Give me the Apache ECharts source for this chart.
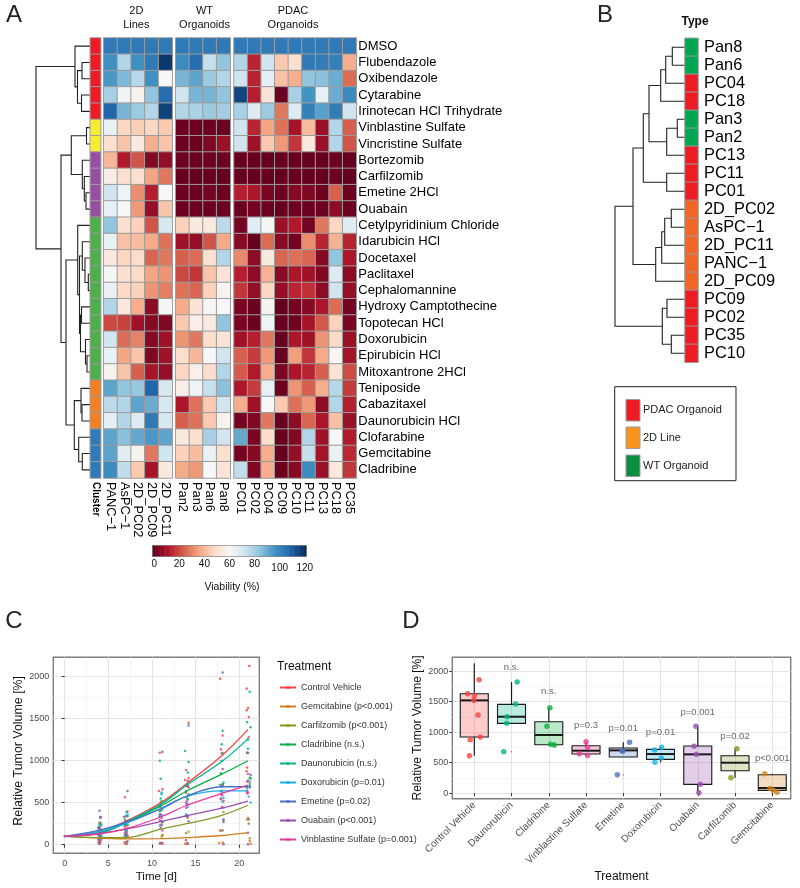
<!DOCTYPE html>
<html><head><meta charset="utf-8">
<style>html,body{margin:0;padding:0;background:#fff}#c{width:800px;height:888px}</style>
<script src="https://cdn.jsdelivr.net/npm/echarts@6/dist/echarts.min.js"></script>
</head><body><div id="c"></div>
<script>
// ---------- Panel A data ----------
const drugs=["DMSO","Flubendazole","Oxibendazole","Cytarabine","Irinotecan HCl Trihydrate","Vinblastine Sulfate","Vincristine Sulfate","Bortezomib","Carfilzomib","Emetine 2HCl","Ouabain","Cetylpyridinium Chloride","Idarubicin HCl","Docetaxel","Paclitaxel","Cephalomannine","Hydroxy Camptothecine","Topotecan HCl","Doxorubicin","Epirubicin HCl","Mitoxantrone 2HCl","Teniposide","Cabazitaxel","Daunorubicin HCl","Clofarabine","Gemcitabine","Cladribine"];
const lines2D=["PANC\u22121","AsPC\u22121","2D_PC02","2D_PC09","2D_PC11"];
const wtOrganoids=["Pan2","Pan3","Pan6","Pan8"];
const pdacOrganoids=["PC01","PC02","PC04","PC09","PC10","PC11","PC13","PC18","PC35"];
const clusterOfDrug=[0,0,0,0,0,1,1,2,2,2,2,3,3,3,3,3,3,3,3,3,3,4,4,4,5,5,5];
const clusterColors=["#ed1c24","#f7ec2f","#984ea3","#4daf4a","#f57f20","#2f7ab9"];
const values2D=[[103,103,103,103,103],[97,78,97,103,118],[95,87,77,97,60],[80,63,58,84,106],[108,88,82,78,116],[64,47,45,47,44],[50,43,54,38,43],[40,12,22,4,7],[56,50,50,36,28],[72,63,32,13,60],[65,60,34,7,43],[84,50,46,22,70],[64,42,41,37,27],[54,47,49,25,28],[61,50,48,36,33],[64,48,46,33,29],[78,54,38,6,61],[20,19,9,5,4],[72,26,30,5,9],[64,36,43,4,9],[58,43,24,10,7],[92,84,83,108,70],[76,78,92,90,70],[66,78,68,103,70],[92,85,91,95,92],[92,67,58,28,72],[98,75,44,10,54]];
const valuesWT=[[103,103,103,103],[98,106,74,84],[88,92,82,78],[72,88,88,84],[78,79,82,81],[1,1,1,1],[1,1,4,8],[1,1,1,1],[0,0,0,0],[1,1,2,1],[1,1,1,1],[46,54,54,76],[9,7,22,37],[24,26,50,78],[20,17,43,52],[27,25,46,58],[37,51,59,60],[44,56,54,84],[33,28,49,52],[49,40,60,72],[47,57,49,78],[56,63,74,85],[11,27,44,72],[24,27,44,58],[54,50,80,72],[46,41,64,50],[37,34,60,52]];
const valuesPDAC=[[103,103,103,103,103,103,103,103,103],[78,14,72,44,50,103,102,101,38],[72,14,66,42,38,84,85,90,26],[115,13,52,1,80,96,65,90,99],[80,68,82,28,68,101,93,102,72],[72,14,36,27,10,41,8,78,24],[72,9,44,34,17,54,8,78,22],[0,0,0,0,0,0,0,1,0],[0,0,0,0,0,0,0,1,0],[13,11,3,1,5,4,1,24,1],[1,2,1,0,1,1,1,6,1],[2,67,61,8,12,2,28,47,68],[5,0,26,5,2,32,14,39,14],[31,6,54,25,27,25,5,84,11],[13,6,39,5,11,9,4,68,6],[17,7,47,7,14,16,6,72,7],[3,1,58,0,2,5,11,26,2],[3,1,63,0,1,10,23,46,3],[9,13,28,0,11,9,33,48,8],[24,18,34,0,35,17,37,59,10],[23,12,38,3,11,14,24,51,21],[11,18,65,1,33,24,38,77,18],[38,9,60,44,27,34,6,78,13],[2,4,28,0,6,25,11,42,8],[91,3,49,0,4,78,9,60,12],[2,5,38,0,7,74,10,64,15],[75,4,38,1,5,98,8,53,17]];
const treeA=[54,[15,0,[12.5,[8,1,2],[8.5,3,4]]],[29,[18.7,[3.5,5,6],[7.7,7,[5.7,8,[4,9,10]]]],[24,[12.3,11,[10.5,[7.7,12,[5,13,[1.7,14,15]]],[9.5,[8.5,16,17],[4.5,18,[3,19,20]]]]],[15.7,[9,21,[8,22,23]],[11.3,24,[7.7,25,26]]]]]];
const colorbarTicks=[0,20,40,60,80,100,120];
// ---------- Panel B data ----------
const modelNames=["Pan8","Pan6","PC04","PC18","Pan3","Pan2","PC13","PC11","PC01","2D_PC02","AsPC\u22121","2D_PC11","PANC\u22121","2D_PC09","PC09","PC02","PC35","PC10"];
const modelType=[2,2,0,0,2,2,0,0,0,1,1,1,1,1,0,0,0,0];
const typeNames=["PDAC Organoid","2D Line","WT Organoid"];
const typeBarColors=["#ed1c24","#f26522","#00a651"];
const typeKeyColors=["#ed1c24","#f7941d","#0b8f3f"];
const treeB=[70,[52,[41.7,[36,[24.3,[19.3,[12.7,0,1],2],3],[18.3,[7.7,4,5],6]],[18.3,7,8]],[29.3,[23.3,[20.3,[13.7,9,10],11],12],13]],[22.7,[18,14,15],[13.7,16,17]]];
// ---------- Panel C data ----------
const days=[0,4,7,11,14,18,21];
const treatments=["Control Vehicle","Gemcitabine (p<0.001)","Carfilzomib (p<0.001)","Cladribine (n.s.)","Daunorubicin (n.s.)","Doxorubicin (p=0.01)","Emetine (p=0.02)","Ouabain (p<0.001)","Vinblastine Sulfate (p=0.001)"];
const treatmentColors=["#f8433f","#d07f1d","#7f9b22","#0cad3f","#00b48a","#18b0e8","#4a72c4","#9a4fb0","#ec3a9a"];
const trendControl=[100,155,280,500,730,1060,1370];
const trendGem=[100,80,70,72,85,110,145];
const trendCarf=[100,85,85,185,250,350,470];
const trendClad=[100,135,260,460,640,840,1000];
const trendDaun=[100,140,270,480,710,990,1260];
const trendDox=[100,160,255,430,575,640,640];
const trendEme=[100,175,265,425,580,690,690];
const trendOua=[100,135,185,275,345,435,520];
const trendVin=[100,130,190,330,470,610,710];
const ptsControl=[[0,100],[4.1,330],[4,260],[3.9,190],[4.2,150],[3.8,120],[4.1,100],[4,40],[3.9,25],[6.9,565],[7.2,395],[6.8,330],[7.1,280],[6.9,220],[7,170],[7.2,110],[6.9,30],[10.9,1095],[11.2,660],[10.8,640],[11,500],[11.1,410],[10.9,330],[11.2,270],[11,20],[13.9,890],[13.8,770],[14.2,795],[14,700],[13.9,620],[14.1,480],[14.2,1450],[17.8,1975],[18.1,1300],[17.9,1135],[18,1090],[18.1,720],[17.9,640],[18.2,520],[21.15,2126],[20.85,1858],[21,1628],[20.85,1600],[21.1,1519],[21.1,1279],[20.9,918],[20.85,874],[20.9,612]];
const ptsDaun=[[4.1,260],[3.9,210],[4.2,160],[4,100],[3.9,60],[7.1,390],[6.9,300],[7.2,240],[7,170],[6.9,110],[10.9,1000],[11.1,620],[11,550],[11.2,430],[10.9,340],[13.8,1115],[14.1,860],[14.2,600],[13.9,500],[14,350],[18.1,1355],[18,1195],[18.1,1090],[17.8,710],[18.2,560],[21.2,1820],[20.9,1459],[21,1251],[21,1142],[20.9,678]];
const ptsClad=[[4,240],[4.1,180],[3.9,130],[4.2,90],[7.2,340],[7,240],[6.9,180],[7.1,120],[11,785],[11.1,520],[10.9,400],[11.2,270],[14.2,985],[14,700],[13.9,640],[14.1,540],[18,1000],[17.9,850],[18.1,720],[18,640],[21.3,1399],[21,1093],[21.2,798],[21.3,787]];
const ptsDox=[[4.2,230],[4,160],[3.9,110],[4.1,70],[7.2,360],[7,260],[7.1,170],[6.9,100],[11.1,600],[11,480],[11.2,350],[10.9,230],[14,720],[14.2,590],[14.1,450],[13.9,360],[18.2,740],[18,620],[18.1,510],[18.2,440],[21.2,749],[21.2,705],[21.1,574],[21.3,503]];
const ptsEme=[[4,405],[4.1,320],[3.9,200],[4.2,120],[7.2,640],[7,340],[6.9,230],[7.1,150],[11.2,1105],[11,440],[10.9,360],[11.1,280],[14.2,1420],[14.1,760],[14,560],[13.9,340],[18.1,2050],[18,690],[18.2,300],[18.2,270],[21.3,831],[21.2,694],[21.2,683],[21.1,300]];
const ptsOua=[[4.1,330],[4,210],[3.9,60],[4.1,30],[4,10],[7.1,280],[6.9,190],[7,120],[7.2,40],[7.1,10],[11,480],[11.1,320],[11,200],[11.2,20],[10.9,15],[14.1,700],[14,480],[14.2,280],[13.9,55],[14.1,10],[18.1,900],[18,600],[17.9,550],[18.1,170],[18.2,5],[20.9,1093],[21,765],[20.9,634],[21,142],[21,5]];
const ptsCarf=[[4.2,180],[4,120],[7.2,230],[7,130],[11.1,230],[11.2,110],[13.9,140],[14.1,320],[17.8,170],[18.2,390],[21.2,727],[21.1,251]];
const ptsGem=[[4.2,240],[4.1,130],[4,50],[3.9,20],[7.2,200],[7,90],[7.1,30],[6.9,15],[11.2,115],[11.1,95],[11,20],[11.2,10],[14.2,155],[14,20],[14.1,15],[13.8,10],[18.2,295],[17.9,170],[18.1,25],[17.7,20],[21,317],[20.9,300],[21.2,76],[21.2,44],[21.3,11]];
const ptsVin=[[4.1,170],[3.9,130],[4,90],[4.2,60],[7,280],[7.1,190],[6.9,140],[7.2,90],[11,360],[10.9,290],[11.1,240],[11.2,170],[14.2,680],[14,520],[13.9,440],[14.1,340],[18.1,700],[18,590],[17.9,540],[18,450],[21,842],[20.9,749],[20.9,645],[21,617]];
const yTicksTumor=[0,500,1000,1500,2000];
const yMinorTumor=[250,750,1250,1750];
const xTicksDays=[0,5,10,15,20];
const xMinorDays=[2.5,7.5,12.5,17.5];
// ---------- Panel D data ----------
const boxNames=["Control Vehicle","Daunorubicin","Cladribine","Vinblastine Sulfate","Emetine","Doxorubicin","Ouabain","Carfilzomib","Gemcitabine"];
const boxColors=["#f8433f","#00b48a","#0cad3f","#ec3a9a","#4a72c4","#18b0e8","#9a4fb0","#7f9b22","#d07f1d"];
const boxLow=[612,1142,792,617,590,503,5,251,11];
const boxQ1=[918,1142,792,639,590,552,142,366,44];
const boxMedian=[1519,1251,951,694,699,639,634,497,82];
const boxQ3=[1628,1454,1169,776,738,716,770,612,300];
const boxHigh=[2126,1820,1399,842,831,749,1093,727,317];
const pLabels=["","n.s.","n.s.","p=0.3","p=0.01","p=0.01","p=0.001","p=0.02","p<0.001"];
const pLabelHeights=[0,2054,1667,1104,1055,995,1317,923,568];
const dotGroups=[
 [[1.13,1858],[.82,1628],[1,1596],[.99,1519],[1.1,1279],[1.16,918],[.89,874],[.87,612]],
 [[2.15,1820],[2.11,1459],[1.88,1251],[1.87,1142],[1.79,678]],
 [[3.03,1399],[2.95,1093],[3.05,798],[3.15,787]],
 [[4,842],[4.04,749],[3.82,645],[4.04,617]],
 [[5.17,831],[4.96,694],[4.99,683],[4.84,300]],
 [[6.03,749],[5.84,705],[6.02,574],[5.85,503]],
 [[6.95,1093],[6.9,765],[6.96,634],[7.07,142],[7.03,5]],
 [[8.05,727],[7.89,251]],
 [[8.8,317],[8.94,76],[9.03,44],[9.13,11]]];
const outliers=[[2,678],[5,300]];

// ---------- helpers ----------
const FONT='"Liberation Sans",Arial,sans-serif';
const grid=[],xAxis=[],yAxis=[],series=[],graphic=[];
function addGrid(g,x,y){const i=grid.length;grid.push(Object.assign({containLabel:false},g));x.gridIndex=i;y.gridIndex=i;xAxis.push(x);yAxis.push(y);return {g:i,x:xAxis.length-1,y:yAxis.length-1};}
function txt(x,y,text,size,o={}){graphic.push({type:'text',x,y,rotation:o.rotation||0,silent:true,style:{text,fill:o.fill||'#111',font:(o.weight?o.weight+' ':'')+size+'px '+FONT,textAlign:o.align||'center',textVerticalAlign:'middle',align:o.align||'center',verticalAlign:'middle',lineHeight:o.lh}});}
const blankCat=(data,extra)=>Object.assign({type:'category',data,axisLine:{show:false},axisTick:{show:false},splitLine:{show:false},axisLabel:{show:false}},extra||{});
const heatStyle={borderColor:'#9c9c9c',borderWidth:1};
const heatIdx=[];
function heatGrid(left,width,cols,rowsVals,showRows){
  const ax=addGrid({left,width,top:38,height:440},
    blankCat(cols,{position:'bottom',axisLabel:{show:true,interval:0,rotate:-90,fontSize:12.8,color:'#000',fontFamily:FONT,margin:4}}),
    blankCat(drugs,{inverse:true,position:'right',axisLabel:{show:!!showRows,interval:0,fontSize:13,color:'#000',fontFamily:FONT,margin:2}}));
  const data=[];rowsVals.forEach((r,y)=>r.forEach((v,x)=>data.push([x,y,v])));
  heatIdx.push(series.length);
  series.push({type:'heatmap',xAxisIndex:ax.x,yAxisIndex:ax.y,data,itemStyle:heatStyle,emphasis:{disabled:true},progressive:0,silent:true});
}
function flatten(node,segs){
  if(typeof node==='number')return {h:0,y:node};
  const a=flatten(node[1],segs),b=flatten(node[2],segs);
  segs.push([a.h,a.y,b.h,b.y,node[0]]);
  return {h:node[0],y:(a.y+b.y)/2};
}
function dendro(tree,left,width,top,height,rows){
  const ax=addGrid({left,width,top,height},
    {type:'value',min:0,max:width,inverse:true,show:false},
    {type:'value',min:-.5,max:rows-.5,inverse:true,show:false});
  const segs=[];flatten(tree,segs);
  series.push({type:'custom',xAxisIndex:ax.x,yAxisIndex:ax.y,data:segs,silent:true,clip:false,
    encode:{x:[0,2,4],y:[1,3]},
    renderItem(p,api){
      const h=api.value(4),a=api.coord([api.value(0),api.value(1)]),b=api.coord([h,api.value(1)]),c=api.coord([h,api.value(3)]),d=api.coord([api.value(2),api.value(3)]);
      return {type:'polyline',shape:{points:[a,b,c,d]},style:{stroke:'#222',lineWidth:1.1,fill:null}};
    }});
}
function colorCol(left,width,top,height,rowNames,colName,colorsByRow,rowLabelOn){
  const ax=addGrid({left,width,top,height},
    blankCat([colName],{position:'bottom',axisLabel:{show:!!colName,interval:0,rotate:-90,fontSize:10,fontWeight:'bold',color:'#000',fontFamily:FONT,margin:4}}),
    blankCat(rowNames,{inverse:true,position:'right',axisLabel:{show:!!rowLabelOn,interval:0,fontSize:16.4,color:'#000',fontFamily:FONT,margin:6}}));
  series.push({type:'heatmap',xAxisIndex:ax.x,yAxisIndex:ax.y,silent:true,emphasis:{disabled:true},progressive:0,
    data:rowNames.map((n,i)=>({value:[0,i,1],itemStyle:{color:colorsByRow[i],borderColor:'#9c9c9c',borderWidth:1}}))});
}

// ---------- Panel A ----------
dendro(treeA,30,60,38,440,drugs.length);
colorCol(90.3,10.4,38,440,drugs,"Cluster",clusterOfDrug.map(c=>clusterColors[c]),false);
heatGrid(103.7,68.6,lines2D,values2D,false);
heatGrid(175.7,54.6,wtOrganoids,valuesWT,false);
heatGrid(234,122.3,pdacOrganoids,valuesPDAC,true);
txt(136.3,18,"2D\nLines",11,{lh:13.5});
txt(204.5,18,"WT\nOrganoids",11,{lh:13.5});
txt(293,18,"PDAC\nOrganoids",11,{lh:13.5});
// colour bar
const barLevels=[];for(let v=0;v<=120;v+=2)barLevels.push(v);
{
  const ax=addGrid({left:153,width:153,top:546,height:10,show:true,borderColor:'#8a8a8a',borderWidth:2,backgroundColor:'#fff'},
    blankCat(barLevels.map(String),{axisLabel:{show:true,interval:(i,v)=>colorbarTicks.includes(+v),fontSize:10,color:'#111',fontFamily:FONT,margin:3,
       formatter:v=>+v>=100?'{low|'+v+'}':v,rich:{low:{padding:[4,0,0,0],fontSize:10,color:'#111',fontFamily:FONT}}}}),
    blankCat(['v']));
  heatIdx.push(series.length);
  series.push({type:'heatmap',xAxisIndex:ax.x,yAxisIndex:ax.y,silent:true,emphasis:{disabled:true},progressive:0,data:barLevels.map((v,i)=>[i,0,v])});
}
txt(232,587,"Viability (%)",10.5);

// ---------- Panel B ----------
dendro(treeB,615,70,38.3,324,modelNames.length);
colorCol(685,13,38.3,324,modelNames,"",modelType.map(t=>typeBarColors[t]),true);
txt(695,21.7,"Type",12,{weight:'bold'});
graphic.push({type:'rect',silent:true,shape:{x:614.7,y:386.7,width:121.3,height:94},style:{fill:'#fff',stroke:'#222',lineWidth:1}});
[399.5,427,455].forEach((y,i)=>{
  graphic.push({type:'rect',silent:true,z:5,shape:{x:626,y,width:14,height:21.5},style:{fill:typeKeyColors[i],stroke:'#9c9c9c',lineWidth:1}});
  txt(643,y+10.7,typeNames[i],11,{align:'left',fill:'#222'});
});

// ---------- shared ggplot axes ----------
const major={show:true,lineStyle:{color:'#e4e4e4',width:1}};
const minor={show:true,lineStyle:{color:'#f0f0f0',width:.7}};
const tickSt={show:true,length:3,lineStyle:{color:'#333',width:1}};
function ggGrid(left,width,top,height,xCfg,yCfg){
  const i=grid.length;
  grid.push({left,width,top,height,show:true,borderColor:'#7d7d7d',borderWidth:1.4,backgroundColor:'#fff'});
  xAxis.push(Object.assign({type:'value',gridIndex:i,axisLine:{show:false},splitLine:major},xCfg));
  const xi=xAxis.length-1;
  yAxis.push(Object.assign({type:'value',gridIndex:i,axisLine:{show:false},splitLine:major,
     axisTick:Object.assign({customValues:yTicksTumor},tickSt),
     axisLabel:{customValues:yTicksTumor,formatter:v=>String(v),fontSize:9,color:'#4d4d4d',fontFamily:FONT,margin:4}},yCfg));
  const yi=yAxis.length-1;
  // minor grid axis
  yAxis.push({type:'value',gridIndex:i,min:yCfg.min,max:yCfg.max,position:'right',axisLine:{show:false},axisLabel:{show:false},axisTick:{show:false,customValues:yMinorTumor},splitLine:minor});
  return {x:xi,y:yi};
}
const nameSt=s=>({fontSize:s,color:'#111',fontFamily:FONT});

// ---------- Panel C ----------
const cAx=ggGrid(53.3,206,657.3,196,
 {min:-1.3,max:22.3,axisTick:Object.assign({customValues:xTicksDays},tickSt),axisLabel:{customValues:xTicksDays,formatter:v=>String(v),fontSize:9,color:'#4d4d4d',fontFamily:FONT,margin:6},
  name:'Time [d]',nameLocation:'middle',nameGap:18,nameTextStyle:nameSt(11.5)},
 {min:-102,max:2231,name:'Relative Tumor Volume [%]',nameLocation:'middle',nameGap:29,nameTextStyle:Object.assign(nameSt(12.4),{padding:[0,0,0,9]})});
xAxis.push({type:'value',gridIndex:grid.length-1,min:-1.3,max:22.3,position:'top',axisLine:{show:false},axisLabel:{show:false},axisTick:{show:false,customValues:xMinorDays},splitLine:minor});
const pts=[ptsControl,ptsGem,ptsCarf,ptsClad,ptsDaun,ptsDox,ptsEme,ptsOua,ptsVin];
const trends=[trendControl,trendGem,trendCarf,trendClad,trendDaun,trendDox,trendEme,trendOua,trendVin];
pts.forEach((p,i)=>series.push({type:'scatter',xAxisIndex:cAx.x,yAxisIndex:cAx.y,data:p,symbolSize:2.6,silent:true,itemStyle:{color:treatmentColors[i]},z:2}));
trends.forEach((t,i)=>series.push({type:'line',name:treatments[i],xAxisIndex:cAx.x,yAxisIndex:cAx.y,data:t.map((v,k)=>[days[k],v]),smooth:.35,showSymbol:false,symbol:'circle',symbolSize:3,silent:true,lineStyle:{color:treatmentColors[i],width:1.3},itemStyle:{color:treatmentColors[i]},z:3}));
txt(277,667,"Treatment",12,{align:'left'});

// ---------- Panel D ----------
const dAx=ggGrid(452.3,338.4,657.3,141.4,
 {min:.41,max:9.495,axisTick:Object.assign({customValues:[1,2,3,4,5,6,7,8,9]},tickSt),
  axisLabel:{customValues:[1,2,3,4,5,6,7,8,9],formatter:v=>boxNames[v-1],rotate:45,fontSize:10,color:'#4d4d4d',fontFamily:FONT,margin:5},
  name:'Treatment',nameLocation:'middle',nameGap:72,nameTextStyle:nameSt(12)},
 {min:-93,max:2225,name:'Relative Tumor Volume [%]',nameLocation:'middle',nameGap:29,nameTextStyle:nameSt(12)});
series.push({type:'custom',xAxisIndex:dAx.x,yAxisIndex:dAx.y,silent:true,z:3,clip:false,
  data:boxNames.map((n,i)=>[i+1,boxLow[i],boxQ1[i],boxMedian[i],boxQ3[i],boxHigh[i]]),
  encode:{x:0,y:[1,2,3,4,5]},
  renderItem(p,api){
    const x=api.value(0),i=p.dataIndex,hw=14,
      lo=api.coord([x,api.value(1)]),q1=api.coord([x,api.value(2)]),m=api.coord([x,api.value(3)]),q3=api.coord([x,api.value(4)]),hi=api.coord([x,api.value(5)]);
    const line=(a,b,w)=>({type:'line',shape:{x1:a[0],y1:a[1],x2:b[0],y2:b[1]},style:{stroke:'#1a1a1a',lineWidth:w}});
    return {type:'group',children:[
      line(hi,q3,1.2),line(q1,lo,1.2),
      {type:'rect',shape:{x:q3[0]-hw,y:q3[1],width:2*hw,height:q1[1]-q3[1]},style:{fill:echarts.color.modifyAlpha(boxColors[i],.27),stroke:'#1a1a1a',lineWidth:1.1}},
      line([m[0]-hw,m[1]],[m[0]+hw,m[1]],2)]};
  }});
dotGroups.forEach((g,i)=>series.push({type:'scatter',xAxisIndex:dAx.x,yAxisIndex:dAx.y,data:g,symbolSize:5.5,silent:true,itemStyle:{color:boxColors[i]},z:4}));
series.push({type:'scatter',xAxisIndex:dAx.x,yAxisIndex:dAx.y,data:outliers,symbolSize:1.3,silent:true,itemStyle:{color:'#555'},z:4});
series.push({type:'scatter',xAxisIndex:dAx.x,yAxisIndex:dAx.y,symbolSize:0,silent:true,z:5,
  data:pLabels.map((t,i)=>({value:[i+1,pLabelHeights[i]],name:t})).filter(d=>d.name),
  label:{show:true,position:'inside',formatter:'{b}',fontSize:9.5,color:'#444',fontFamily:FONT}});

// panel letters
txt(14,15,"A",24,{fill:'#222'});txt(605,15,"B",24,{fill:'#222'});txt(14,621,"C",24,{fill:'#222'});txt(411,621,"D",24,{fill:'#222'});

const chart=echarts.init(document.getElementById('c'),null,{renderer:'canvas'});
chart.setOption({animation:false,backgroundColor:'#fff',textStyle:{fontFamily:FONT},
  grid,xAxis,yAxis,series,graphic,
  tooltip:{show:false},
  visualMap:{show:false,type:'continuous',min:0,max:120,dimension:2,seriesIndex:heatIdx,
    inRange:{color:['#67001f','#b2182b','#d6604d','#f4a582','#fddbc7','#f7f7f7','#d1e5f0','#92c5de','#4393c3','#2166ac','#053061']}},
  legend:{show:true,orient:'vertical',left:279,top:682.5,padding:0,itemWidth:16,itemHeight:4,itemGap:9,selectedMode:false,data:treatments,
    textStyle:{fontSize:9,color:'#333',fontFamily:FONT,lineHeight:10}}
});
</script></body></html>
